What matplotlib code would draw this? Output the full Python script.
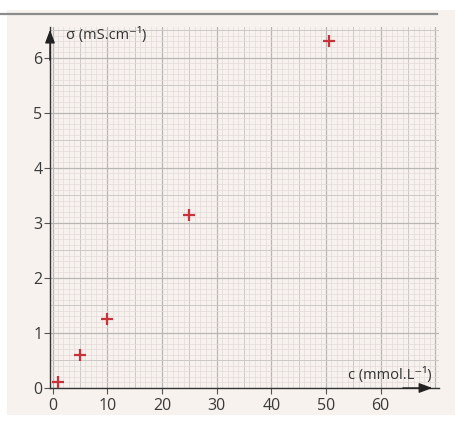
import numpy as np
import matplotlib
matplotlib.use("Agg")
import matplotlib.pyplot as plt
from matplotlib.patches import Rectangle
from matplotlib.lines import Line2D

# concentration (mmol/L) and conductivity (mS/cm)
c = [1, 5, 10, 25, 50.5]
sigma = [0.1, 0.6, 1.25, 3.15, 6.3]
x_ticks = [0, 10, 20, 30, 40, 50, 60]
y_ticks = [0, 1, 2, 3, 4, 5, 6]

plt.rcParams['font.family'] = ['Open Sans', 'DejaVu Sans']
W, H = 456, 421
fig = plt.figure(figsize=(W / 100, H / 100), dpi=100, facecolor='white')

# paper background and top rule
fig.patches.append(Rectangle((7 / W, 6 / H), 449 / W, 405 / H, transform=fig.transFigure,
                             facecolor='#f7f2ee', edgecolor='none', zorder=-10))
fig.lines.append(Line2D([0, 437 / W], [1 - 14 / H, 1 - 14 / H], transform=fig.transFigure,
                        color='#8c8c8c', lw=1.6, zorder=-5))

ax = fig.add_axes([50 / W, 33 / H, 389 / W, 361 / H])
ax.set_facecolor('none')
ax.set_xlim(-0.46, 70.66)
ax.set_ylim(0, 6.56)

# graph paper grid
fine = '#e2dbda'
mid = '#cdc8c8'
major = '#b8b5b5'
for xv in np.arange(0, 71, 1):
    col, lw = (major, 0.9) if xv % 10 == 0 else ((mid, 0.7) if xv % 5 == 0 else (fine, 0.5))
    ax.axvline(xv, color=col, lw=lw, zorder=1)
for yv in np.arange(0, 6.6, 0.1):
    k = int(round(yv * 10))
    col, lw = (major, 0.9) if k % 10 == 0 else ((mid, 0.7) if k % 5 == 0 else (fine, 0.5))
    ax.axhline(yv, color=col, lw=lw, zorder=1)

for s in ['top', 'right']:
    ax.spines[s].set_visible(False)
for s in ['left', 'bottom']:
    ax.spines[s].set_color('#333333')
    ax.spines[s].set_linewidth(1.0)
    ax.spines[s].set_zorder(3)

ax.set_xticks(x_ticks)
ax.set_yticks(y_ticks)
ax.tick_params(axis='both', direction='out', length=4, width=0.8, color='#555555',
               labelsize=11.5, labelcolor='#3a3a3a')
ax.tick_params(axis='x', pad=3)
ax.tick_params(axis='y', pad=1.5)

# axis arrows
ax.annotate('', xy=(0, 1.0), xytext=(0, 0.9), xycoords='axes fraction',
            arrowprops=dict(arrowstyle='-|>,head_length=0.8,head_width=0.3', color='#222222', lw=1.0),
            zorder=4)
ax.annotate('', xy=(0.99, 0), xytext=(0.9, 0), xycoords='axes fraction',
            arrowprops=dict(arrowstyle='-|>,head_length=0.8,head_width=0.3', color='#222222', lw=1.0),
            zorder=4)

ax.text(0.04, 0.978, 'σ (mS.cm⁻¹)', transform=ax.transAxes, fontsize=10.5,
        color='#333333', va='center', ha='left', zorder=5)
ax.text(0.98, 0.036, 'c (mmol.L⁻¹)', transform=ax.transAxes, fontsize=10.5,
        color='#333333', va='center', ha='right', zorder=5)

ax.plot(c, sigma, linestyle='none', marker='+', markersize=9, mew=1.6,
        color='#c8323a', zorder=6, clip_on=False)

fig.savefig('out.png', dpi=100, facecolor='white')
